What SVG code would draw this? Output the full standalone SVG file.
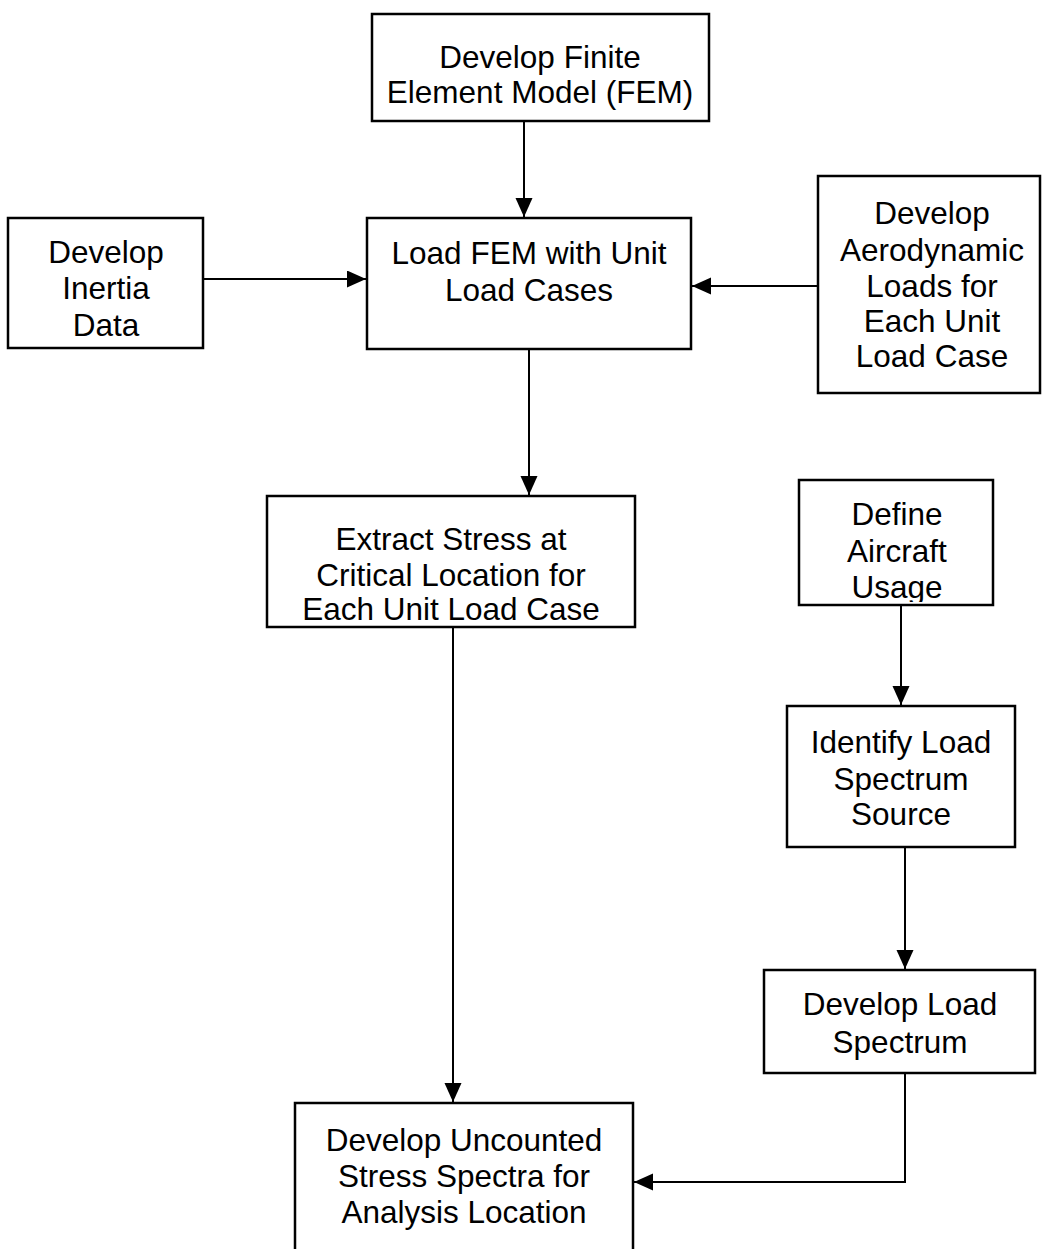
<svg xmlns="http://www.w3.org/2000/svg" width="1043" height="1249" viewBox="0 0 1043 1249">
  <style>
    .box { fill: #ffffff; stroke: #000000; stroke-width: 2.5; }
    .lbl { font-family: "Liberation Sans", Arial, sans-serif; font-size: 31.5px; fill: #000000; text-anchor: middle; }
    .wire { fill: none; stroke: #000000; stroke-width: 2; }
  </style>
  <defs>
    <marker id="head" markerUnits="userSpaceOnUse" markerWidth="20" markerHeight="18" refX="19" refY="8.5" orient="auto">
      <path d="M0,0 L19,8.5 L0,17 z" fill="#000000"/>
    </marker>
    <clipPath id="usageClip">
      <rect x="799" y="480" width="194" height="122"/>
    </clipPath>
  </defs>
  <rect x="0" y="0" width="1043" height="1249" fill="#ffffff"/>

  <g id="connectors">
    <line class="wire" x1="524" y1="121" x2="524" y2="217" marker-end="url(#head)"/>
    <line class="wire" x1="203" y1="279" x2="366" y2="279" marker-end="url(#head)"/>
    <line class="wire" x1="818" y1="286" x2="692" y2="286" marker-end="url(#head)"/>
    <line class="wire" x1="529" y1="349" x2="529" y2="495" marker-end="url(#head)"/>
    <line class="wire" x1="453" y1="627" x2="453" y2="1102" marker-end="url(#head)"/>
    <line class="wire" x1="901" y1="605" x2="901" y2="705" marker-end="url(#head)"/>
    <line class="wire" x1="905" y1="847" x2="905" y2="969" marker-end="url(#head)"/>
    <path class="wire" d="M905,1073 V1182 H634" marker-end="url(#head)"/>
  </g>

  <g id="fem">
    <rect class="box" x="372" y="14" width="337" height="107"/>
    <text class="lbl" x="540" y="68">Develop Finite</text>
    <text class="lbl" x="540" y="103">Element Model (FEM)</text>
  </g>

  <g id="inertia">
    <rect class="box" x="8" y="218" width="195" height="130"/>
    <text class="lbl" x="106" y="263">Develop</text>
    <text class="lbl" x="106" y="299">Inertia</text>
    <text class="lbl" x="106" y="336">Data</text>
  </g>

  <g id="load-fem">
    <rect class="box" x="367" y="218" width="324" height="131"/>
    <text class="lbl" x="529" y="264">Load FEM with Unit</text>
    <text class="lbl" x="529" y="301">Load Cases</text>
  </g>

  <g id="aero">
    <rect class="box" x="818" y="176" width="222" height="217"/>
    <text class="lbl" x="932" y="224">Develop</text>
    <text class="lbl" x="932" y="261">Aerodynamic</text>
    <text class="lbl" x="932" y="297">Loads for</text>
    <text class="lbl" x="932" y="332">Each Unit</text>
    <text class="lbl" x="932" y="367">Load Case</text>
  </g>

  <g id="extract">
    <rect class="box" x="267" y="496" width="368" height="131"/>
    <text class="lbl" x="451" y="550">Extract Stress at</text>
    <text class="lbl" x="451" y="586">Critical Location for</text>
    <text class="lbl" x="451" y="620">Each Unit Load Case</text>
  </g>

  <g id="usage">
    <rect class="box" x="799" y="480" width="194" height="125"/>
    <g clip-path="url(#usageClip)">
      <text class="lbl" x="897" y="525">Define</text>
      <text class="lbl" x="897" y="562">Aircraft</text>
      <text class="lbl" x="897" y="598">Usage</text>
    </g>
  </g>

  <g id="spectrum-source">
    <rect class="box" x="787" y="706" width="228" height="141"/>
    <text class="lbl" x="901" y="753">Identify Load</text>
    <text class="lbl" x="901" y="790">Spectrum</text>
    <text class="lbl" x="901" y="825">Source</text>
  </g>

  <g id="load-spectrum">
    <rect class="box" x="764" y="970" width="271" height="103"/>
    <text class="lbl" x="900" y="1015">Develop Load</text>
    <text class="lbl" x="900" y="1053">Spectrum</text>
  </g>

  <g id="stress-spectra">
    <rect class="box" x="295" y="1103" width="338" height="200"/>
    <text class="lbl" x="464" y="1151">Develop Uncounted</text>
    <text class="lbl" x="464" y="1187">Stress Spectra for</text>
    <text class="lbl" x="464" y="1223">Analysis Location</text>
  </g>
</svg>
